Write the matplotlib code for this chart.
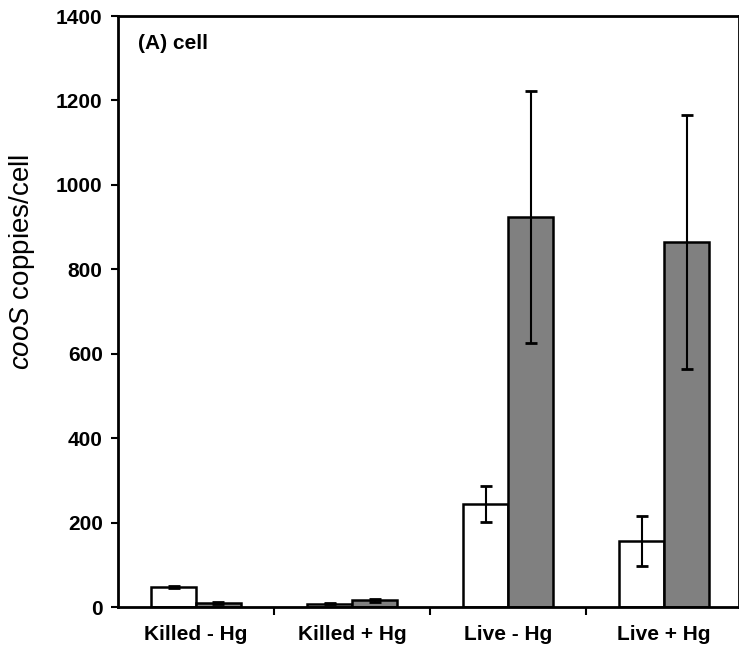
import numpy as np
import matplotlib.pyplot as plt

plt.rcParams['font.family'] = ['Liberation Sans', 'DejaVu Sans']
plt.rcParams['mathtext.fontset'] = 'custom'
plt.rcParams['mathtext.it'] = 'Liberation Sans:italic'
plt.rcParams['mathtext.rm'] = 'Liberation Sans'

# donnees
categories = ["Killed - Hg", "Killed + Hg", "Live - Hg", "Live + Hg"]
white_vals = [47, 8, 244, 156]
white_err = [2, 2, 42, 60]
grey_vals = [10, 16, 924, 865]
grey_err = [3, 3, 298, 301]

fig = plt.figure(figsize=(7.39, 6.49), dpi=100)
ax = fig.add_axes([0.1597, 0.0647, 0.8403, 0.9106])

x = np.arange(len(categories))
w = 0.288
ax.bar(x - w / 2, white_vals, w, color="white", edgecolor="black", linewidth=1.8, zorder=2)
ax.bar(x + w / 2, grey_vals, w, color="#808080", edgecolor="black", linewidth=1.8, zorder=2)
ax.errorbar(x - w / 2, white_vals, yerr=white_err, fmt="none", ecolor="black",
            elinewidth=1.5, capsize=4, capthick=2, zorder=3)
ax.errorbar(x + w / 2, grey_vals, yerr=grey_err, fmt="none", ecolor="black",
            elinewidth=1.5, capsize=4, capthick=2, zorder=3)

ax.set_xlim(-0.5, 3.48)
ax.set_ylim(0, 1400)
ax.set_yticks(np.arange(0, 1401, 200))
ax.set_xticks(x)
ax.set_xticklabels(categories, fontsize=15, fontweight="bold")
ax.set_xticks(np.arange(0.5, 3.5, 1), minor=True)
ax.tick_params(axis="x", which="major", length=0, pad=13)
ax.tick_params(axis="x", which="minor", length=6, width=1.5, direction="out")
ax.tick_params(axis="y", length=5, width=1.5, direction="out", labelsize=15, pad=6)
for lab in ax.get_yticklabels():
    lab.set_fontweight("bold")

for s in ax.spines.values():
    s.set_linewidth(2)

ax.set_ylabel(r"$\it{cooS}$ coppies/cell", fontsize=20)
ax.yaxis.set_label_coords(-0.131, 0.584)
ax.text(0.032, 0.953, "(A) cell", transform=ax.transAxes, fontsize=15,
        fontweight="bold", va="center", ha="left")

fig.savefig("out.png", dpi=100)
